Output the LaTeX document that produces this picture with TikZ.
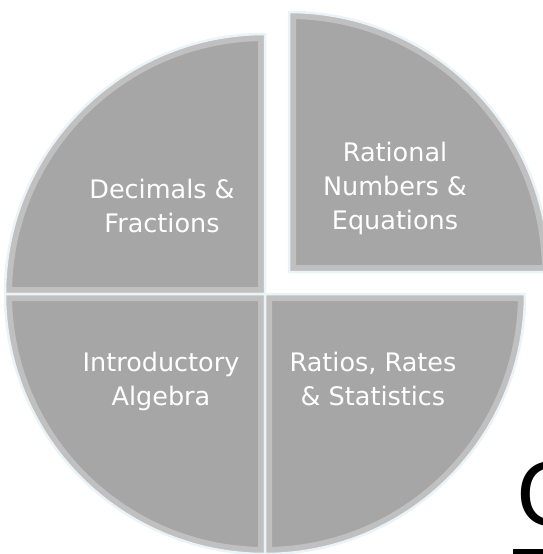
\documentclass[tikz,border=0pt]{standalone}
\usepackage{fontspec}
\setmainfont{DejaVu Sans}
\usepackage{xcolor}
\definecolor{sliceGray}{HTML}{A6A6A6}
\definecolor{edgeBlue}{HTML}{EAF4F8}

\def\R{260pt}

\begin{document}
\begin{tikzpicture}[x=1pt,y=-1pt,
    lbl/.style={text=white, align=center, font=\fontsize{25.5}{34}\selectfont},
    edge/.style={draw=edgeBlue, line width=2.5pt, line join=round},
  ]
  \useasboundingbox (0,0) rectangle (543,554);
  \clip (0,0) rectangle (543,554);

  % four quarters, the top right one pulled out
  \foreach \a/\cx/\cy in {180/265/294, 270/265/294, 0/265/294, 90/289/272} {
    \begin{scope}
      \clip (\cx,\cy) -- ++(\a:\R) arc[start angle=\a, end angle=\a-90, radius=\R] -- cycle;
      \fill[sliceGray] (\cx,\cy) -- ++(\a:\R) arc[start angle=\a, end angle=\a-90, radius=\R] -- cycle;
      \draw[white, opacity=.3, line width=14pt] (\cx,\cy) -- ++(\a:\R) arc[start angle=\a, end angle=\a-90, radius=\R] -- cycle;
    \end{scope}
    \draw[edge] (\cx,\cy) -- ++(\a:\R) arc[start angle=\a, end angle=\a-90, radius=\R] -- cycle;
  }

  \node[lbl] (dec)   at (162,206) {Decimals \&\\Fractions};
  \node[lbl] (rat)   at (395,188) {Rational\\Numbers \&\\Equations};
  \node[lbl] (intro) at (161,381) {Introductory\\Algebra};
  \node[lbl] (ratio) at (373,379) {Ratios, Rates\\\& Statistics};

  % cut off title letter
  \node[anchor=base west, inner sep=0pt, font=\fontsize{86}{90}\selectfont] (cap) at (516,525) {C};
  \draw[line width=5pt] (513,551) -- (543,551);
\end{tikzpicture}
\end{document}
